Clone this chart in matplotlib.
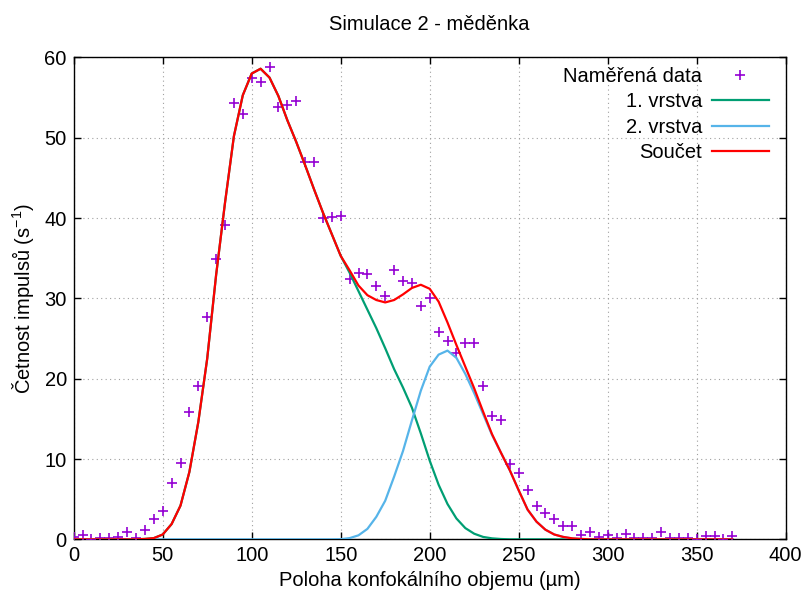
import matplotlib
matplotlib.use("Agg")
import matplotlib.pyplot as plt
import numpy as np

plt.rcParams['font.family'] = ['Liberation Sans', 'DejaVu Sans']
plt.rcParams['mathtext.fontset'] = 'custom'
plt.rcParams['mathtext.rm'] = 'Liberation Sans'

# Measured data (x in µm, counts per s)
data_x = [0, 5, 10, 15, 20, 25, 30, 35, 40, 45, 50, 55, 60, 65, 70, 75, 80, 85, 90, 95,
          100, 105, 110, 115, 120, 125, 130, 135, 140, 145, 150, 155, 160, 165, 170, 175,
          180, 185, 190, 195, 200, 205, 210, 215, 220, 225, 230, 235, 240, 245, 250, 255,
          260, 265, 270, 275, 280, 285, 290, 295, 300, 305, 310, 315, 320, 325, 330, 335,
          340, 345, 350, 355, 360, 365, 370]
data_y = [0.3, 0.55, 0.05, 0.2, 0.12, 0.25, 0.87, 0.2, 1.16, 2.5, 3.5, 7.0, 9.5, 15.8, 19.1,
          27.7, 34.9, 39.1, 54.3, 53.0, 57.5, 57.0, 58.8, 53.8, 54.1, 54.6, 47.0, 47.0, 40.0,
          40.1, 40.2, 32.4, 33.2, 33.0, 31.5, 30.3, 33.5, 32.2, 31.9, 29.1, 30.1, 25.8, 24.7,
          23.2, 24.5, 24.5, 19.1, 15.4, 14.9, 9.4, 8.2, 6.2, 4.1, 3.3, 2.5, 1.6, 1.6, 0.55,
          0.95, 0.3, 0.6, 0.2, 0.7, 0.2, 0.2, 0.2, 0.95, 0.2, 0.2, 0.2, 0.0, 0.4, 0.4, 0.0, 0.4]

# Fitted curves
curve_x = [0, 5, 10, 15, 20, 25, 30, 35, 40, 45, 50, 55, 60, 65, 70, 75, 80, 85, 90, 95,
           100, 105, 110, 115, 120, 125, 130, 135, 140, 145, 150, 155, 160, 165, 170, 175,
           180, 185, 190, 195, 200, 205, 210, 215, 220, 225, 230, 235, 240, 245, 250, 255,
           260, 265, 270, 275, 280, 285, 290, 300, 310, 320, 330, 340, 350, 360, 370]
layer1_y = [0, 0, 0, 0, 0, 0, 0, 0, 0.05, 0.15, 0.6, 1.9, 4.2, 8.4, 14.6, 22.5, 32.9, 41.9,
            50.2, 55.3, 58.0, 58.6, 57.5, 55.2, 52.2, 49.5, 46.6, 43.6, 40.7, 38.0, 35.3,
            33.2, 30.9, 28.6, 26.3, 23.8, 21.2, 18.9, 16.4, 13.2, 9.8, 6.8, 4.4, 2.6, 1.4,
            0.7, 0.3, 0.12, 0.04, 0, 0, 0, 0, 0, 0, 0, 0, 0, 0, 0, 0, 0, 0, 0, 0, 0, 0]
layer2_y = [0, 0, 0, 0, 0, 0, 0, 0, 0, 0, 0, 0, 0, 0, 0, 0, 0, 0, 0, 0,
            0, 0, 0, 0, 0, 0, 0, 0, 0, 0, 0.02, 0.15, 0.5, 1.3, 2.8, 4.8, 7.8, 11.0, 14.8,
            18.5, 21.5, 23.0, 23.5, 22.6, 20.6, 18.2, 15.6, 13.0, 10.8, 8.6, 6.1, 3.7, 2.2,
            1.2, 0.6, 0.3, 0.12, 0.05, 0, 0, 0, 0, 0, 0, 0, 0, 0]
sum_y = [0, 0, 0, 0, 0, 0, 0, 0, 0.05, 0.15, 0.6, 1.9, 4.2, 8.4, 14.6, 22.5, 32.9, 41.9,
         50.2, 55.3, 58.0, 58.6, 57.5, 55.2, 52.2, 49.5, 46.6, 43.6, 40.7, 38.0, 35.3,
         33.5, 31.6, 30.4, 29.8, 29.5, 29.8, 30.5, 31.3, 31.7, 31.2, 29.6, 27.0, 24.2,
         21.5, 18.8, 15.9, 13.1, 10.8, 8.6, 6.1, 3.7, 2.2, 1.2, 0.6, 0.3, 0.12, 0.05,
         0, 0, 0, 0, 0, 0, 0, 0, 0]

xticks = [0, 50, 100, 150, 200, 250, 300, 350, 400]
yticks = [0, 10, 20, 30, 40, 50, 60]

FS = 14.5

fig = plt.figure(figsize=(8.09, 5.97), dpi=100)
ax = fig.add_axes([0.0911, 0.0966, 0.8801, 0.8071])

ax.plot(data_x, data_y, linestyle='none', marker='+', markersize=7.5,
        markeredgewidth=1.2, color='#9400d3', label='Naměřená data', zorder=3)
ax.plot(curve_x, layer1_y, color='#009e73', lw=1.6, label='1. vrstva', zorder=4)
ax.plot(curve_x, layer2_y, color='#56b4e9', lw=1.6, label='2. vrstva', zorder=5)
ax.plot(curve_x, sum_y, color='#ff0000', lw=1.6, label='Součet', zorder=6)

ax.set_xlim(0, 400)
ax.set_ylim(0, 60)
ax.set_xticks(xticks)
ax.set_yticks(yticks)
ax.tick_params(direction='in', top=True, right=True, length=5, width=1,
               labelsize=FS, pad=5, colors='black')
ax.grid(True, linestyle=(0, (1, 3)), color='#a0a0a0', lw=0.8)
for s in ax.spines.values():
    s.set_linewidth(1.0)
    s.set_color('black')

ax.set_title('Simulace 2 - měděnka', fontsize=FS, pad=20)
ax.set_xlabel('Poloha konfokálního objemu (µm)', fontsize=FS, labelpad=4)
ax.set_ylabel(r'Četnost impulsů (s$^{\mathregular{-1}}$)', fontsize=FS, labelpad=6)

leg = ax.legend(loc='upper right', bbox_to_anchor=(0.993, 1.006), frameon=False,
                markerfirst=False, fontsize=FS, handlelength=2.8, numpoints=1,
                labelspacing=0.32, handletextpad=0.5, borderaxespad=0.2)
for t in leg.get_texts():
    t.set_ha('right')

fig.savefig('out.png', dpi=100)
